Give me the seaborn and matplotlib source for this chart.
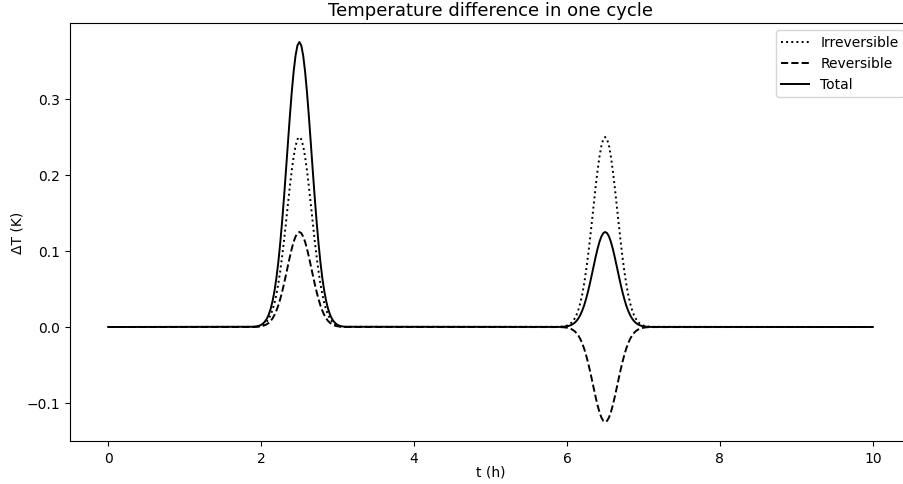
import matplotlib
matplotlib.use("Agg")
import matplotlib.pyplot as plt
import seaborn as sns
import pandas as pd

# time points (h)
t_peak1 = [1.900, 1.925, 1.950, 1.975, 2.000, 2.025, 2.050, 2.075, 2.100, 2.125, 2.150, 2.175,
           2.200, 2.225, 2.250, 2.275, 2.300, 2.325, 2.350, 2.375, 2.400, 2.425, 2.450, 2.475,
           2.500,
           2.525, 2.550, 2.575, 2.600, 2.625, 2.650, 2.675, 2.700, 2.725, 2.750, 2.775, 2.800,
           2.825, 2.850, 2.875, 2.900, 2.925, 2.950, 2.975, 3.000, 3.025, 3.050, 3.075, 3.100]
t_peak2 = [5.900, 5.925, 5.950, 5.975, 6.000, 6.025, 6.050, 6.075, 6.100, 6.125, 6.150, 6.175,
           6.200, 6.225, 6.250, 6.275, 6.300, 6.325, 6.350, 6.375, 6.400, 6.425, 6.450, 6.475,
           6.500,
           6.525, 6.550, 6.575, 6.600, 6.625, 6.650, 6.675, 6.700, 6.725, 6.750, 6.775, 6.800,
           6.825, 6.850, 6.875, 6.900, 6.925, 6.950, 6.975, 7.000, 7.025, 7.050, 7.075, 7.100]
t = [0.0] + t_peak1 + t_peak2 + [10.0]

irr_peak1 = [0.0002, 0.0004, 0.0007, 0.0011, 0.0019, 0.0031, 0.0048, 0.0073, 0.0110, 0.0160,
             0.0229, 0.0318, 0.0431, 0.0571, 0.0738, 0.0930, 0.1145, 0.1375, 0.1611, 0.1843,
             0.2056, 0.2240, 0.2381, 0.2470,
             0.2500,
             0.2470, 0.2381, 0.2240, 0.2056, 0.1843, 0.1611, 0.1375, 0.1145, 0.0930, 0.0738,
             0.0571, 0.0431, 0.0318, 0.0229, 0.0160, 0.0110, 0.0073, 0.0048, 0.0031, 0.0019,
             0.0011, 0.0007, 0.0004, 0.0002]
irr_peak2 = [0.0002, 0.0004, 0.0007, 0.0011, 0.0019, 0.0031, 0.0048, 0.0073, 0.0110, 0.0160,
             0.0229, 0.0318, 0.0431, 0.0571, 0.0738, 0.0930, 0.1145, 0.1375, 0.1611, 0.1843,
             0.2056, 0.2240, 0.2381, 0.2470,
             0.2500,
             0.2470, 0.2381, 0.2240, 0.2056, 0.1843, 0.1611, 0.1375, 0.1145, 0.0930, 0.0738,
             0.0571, 0.0431, 0.0318, 0.0229, 0.0160, 0.0110, 0.0073, 0.0048, 0.0031, 0.0019,
             0.0011, 0.0007, 0.0004, 0.0002]
rev_peak1 = [0.0001, 0.0002, 0.0003, 0.0006, 0.0009, 0.0015, 0.0024, 0.0037, 0.0055, 0.0080,
             0.0114, 0.0159, 0.0216, 0.0285, 0.0369, 0.0465, 0.0572, 0.0687, 0.0805, 0.0921,
             0.1028, 0.1120, 0.1190, 0.1235,
             0.1250,
             0.1235, 0.1190, 0.1120, 0.1028, 0.0921, 0.0805, 0.0687, 0.0572, 0.0465, 0.0369,
             0.0285, 0.0216, 0.0159, 0.0114, 0.0080, 0.0055, 0.0037, 0.0024, 0.0015, 0.0009,
             0.0006, 0.0003, 0.0002, 0.0001]
rev_peak2 = [-0.0001, -0.0002, -0.0003, -0.0006, -0.0009, -0.0015, -0.0024, -0.0037, -0.0055, -0.0080,
             -0.0114, -0.0159, -0.0216, -0.0285, -0.0369, -0.0465, -0.0572, -0.0687, -0.0805, -0.0921,
             -0.1028, -0.1120, -0.1190, -0.1235,
             -0.1250,
             -0.1235, -0.1190, -0.1120, -0.1028, -0.0921, -0.0805, -0.0687, -0.0572, -0.0465, -0.0369,
             -0.0285, -0.0216, -0.0159, -0.0114, -0.0080, -0.0055, -0.0037, -0.0024, -0.0015, -0.0009,
             -0.0006, -0.0003, -0.0002, -0.0001]
tot_peak1 = [0.0003, 0.0006, 0.0010, 0.0017, 0.0028, 0.0046, 0.0072, 0.0110, 0.0165, 0.0241,
             0.0343, 0.0477, 0.0647, 0.0856, 0.1106, 0.1395, 0.1717, 0.2062, 0.2416, 0.2764,
             0.3085, 0.3360, 0.3571, 0.3705,
             0.3750,
             0.3705, 0.3571, 0.3360, 0.3085, 0.2764, 0.2416, 0.2062, 0.1717, 0.1395, 0.1106,
             0.0856, 0.0647, 0.0477, 0.0343, 0.0241, 0.0165, 0.0110, 0.0072, 0.0046, 0.0028,
             0.0017, 0.0010, 0.0006, 0.0003]
tot_peak2 = [0.0001, 0.0002, 0.0003, 0.0006, 0.0009, 0.0015, 0.0024, 0.0037, 0.0055, 0.0080,
             0.0114, 0.0159, 0.0216, 0.0285, 0.0369, 0.0465, 0.0572, 0.0687, 0.0805, 0.0921,
             0.1028, 0.1120, 0.1190, 0.1235,
             0.1250,
             0.1235, 0.1190, 0.1120, 0.1028, 0.0921, 0.0805, 0.0687, 0.0572, 0.0465, 0.0369,
             0.0285, 0.0216, 0.0159, 0.0114, 0.0080, 0.0055, 0.0037, 0.0024, 0.0015, 0.0009,
             0.0006, 0.0003, 0.0002, 0.0001]

irreversible = [0.0] + irr_peak1 + irr_peak2 + [0.0]
reversible = [0.0] + rev_peak1 + rev_peak2 + [0.0]
total = [0.0] + tot_peak1 + tot_peak2 + [0.0]

df = pd.DataFrame({"t": t, "Irreversible": irreversible,
                   "Reversible": reversible, "Total": total})

plt.rcParams["font.family"] = ["DejaVu Sans"]
plt.rcParams["font.size"] = 10

fig = plt.figure(figsize=(9.04, 4.85), dpi=100)
ax = fig.add_axes([70 / 904, 1 - 442 / 485, (911 - 70) / 904, (442 - 24) / 485])

sns.lineplot(data=df, x="t", y="Irreversible", color="black", linestyle=":",
             linewidth=1.4, label="Irreversible", ax=ax)
sns.lineplot(data=df, x="t", y="Reversible", color="black", linestyle="--",
             linewidth=1.4, label="Reversible", ax=ax)
sns.lineplot(data=df, x="t", y="Total", color="black", linestyle="-",
             linewidth=1.4, label="Total", ax=ax)

ax.set_xlim(-0.5, 10.5)
ax.set_ylim(-0.15, 0.4)
ax.set_xticks([0, 2, 4, 6, 8, 10])
ax.set_yticks([-0.1, 0.0, 0.1, 0.2, 0.3])
ax.set_xlabel("t (h)", labelpad=0)
ax.set_ylabel("ΔT (K)", labelpad=1.5)
ax.set_title("Temperature difference in one cycle", fontsize=13)
ax.legend(loc="upper right")

fig.savefig("out.png", dpi=100)
